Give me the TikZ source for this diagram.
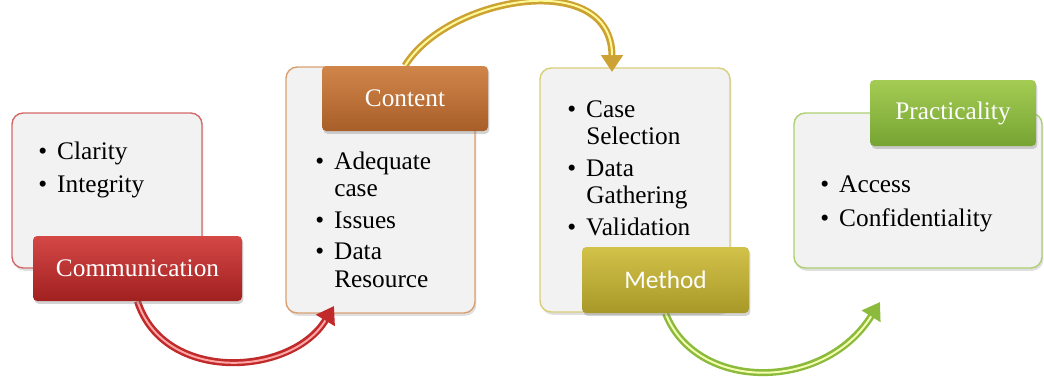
\documentclass[tikz,border=0pt]{standalone}
\usepackage{fontspec}
\setmainfont{Liberation Serif}
\newfontfamily\calibrifont{Carlito}
\usetikzlibrary{arrows.meta,shadows}

\pgfdeclarelayer{back}
\pgfdeclarelayer{mid}
\pgfsetlayers{back,mid,main}

\definecolor{commtop}{RGB}{212,72,70}
\definecolor{commbot}{RGB}{160,32,32}
\definecolor{conttop}{RGB}{208,134,74}
\definecolor{contbot}{RGB}{168,94,40}
\definecolor{methtop}{RGB}{210,194,74}
\definecolor{methbot}{RGB}{168,152,40}
\definecolor{practop}{RGB}{164,204,84}
\definecolor{pracbot}{RGB}{118,164,50}
\definecolor{commline}{RGB}{212,104,104}
\definecolor{contline}{RGB}{216,160,112}
\definecolor{methline}{RGB}{216,206,120}
\definecolor{pracline}{RGB}{172,208,112}
\definecolor{redflow}{RGB}{192,42,42}
\definecolor{goldflow}{RGB}{204,162,52}
\definecolor{greenflow}{RGB}{140,186,60}

\newcommand{\bul}{\makebox[13.5pt][l]{\textbullet}}
\newcommand{\cont}{\hspace*{13.5pt}}

\begin{document}
\begin{tikzpicture}[>={Triangle[length=12pt,width=15pt]}]
    \useasboundingbox (0,0) rectangle (26.1,9.4);

    % Define styles
    \tikzstyle{card}=[rectangle, rounded corners=8pt, fill=gray!10, line width=1pt, drop shadow={opacity=0.25, shadow xshift=1pt, shadow yshift=-2pt}]
    \tikzstyle{tag}=[rectangle, rounded corners=3pt, text=white, font=\rmfamily\fontsize{18}{20}\selectfont, drop shadow={opacity=0.35, shadow xshift=1pt, shadow yshift=-2pt}]
    \tikzstyle{items}=[inner sep=0pt, anchor=north west, align=left, font=\rmfamily\fontsize{18}{19.5}\selectfont]
    \tikzstyle{flow}=[->, line width=5pt]

    % Cards
    \begin{pgfonlayer}{back}
    \node[card, draw=commline, minimum width=4.75cm, minimum height=3.875cm] (commbox) at (2.675,4.6375) {};
    \node[card, draw=contline, minimum width=4.725cm, minimum height=6.15cm] (contbox) at (9.5125,4.65) {};
    \node[card, draw=methline, minimum width=4.75cm, minimum height=6.1cm] (methbox) at (15.875,4.65) {};
    \node[card, draw=pracline, minimum width=6.2cm, minimum height=3.875cm] (pracbox) at (22.95,4.6375) {};
    \end{pgfonlayer}

    % Tags
    \node[tag, top color=commtop, bottom color=commbot, minimum width=5.225cm, minimum height=1.625cm] (comm) at (3.4375,2.6875) {Communication};
    \node[tag, top color=conttop, bottom color=contbot, minimum width=4.15cm, minimum height=1.625cm] (content) at (10.125,6.9375) {Content};
    \node[tag, top color=methtop, bottom color=methbot, minimum width=4.175cm, minimum height=1.65cm, font=\calibrifont\fontsize{18}{20}\selectfont] (method) at (16.6375,2.4) {Method};
    \node[tag, top color=practop, bottom color=pracbot, minimum width=4.15cm, minimum height=1.65cm] (prac) at (23.825,6.575) {Practicality};

    % Bullet lists
    \node[items] (commlist) at (0.95,5.87) {\bul Clarity\\[4pt] \bul Integrity};
    \node[items] (contlist) at (7.875,5.62) {\bul Adequate\\ \cont case\\[3pt] \bul Issues\\[3pt] \bul Data\\ \cont Resource};
    \node[items] (methlist) at (14.175,6.9) {\bul Case\\ \cont Selection\\[3pt] \bul Data\\ \cont Gathering\\[3pt] \bul Validation};
    \node[items] (praclist) at (20.5,5.0) {\bul Access\\[4pt] \bul Confidentiality};

    % Connectors
    \coordinate (redtip) at (8.35,1.75);
    \coordinate (goldtip) at (15.3,7.6);
    \coordinate (greentip) at (22.0,1.85);
    \begin{pgfonlayer}{mid}
    \draw[flow, redflow, postaction={draw=red!35, line width=1.4pt, -, shorten >=12pt}] (comm.south) .. controls (4.1,-0.2) and (7.3,0.0) .. (redtip);
    \draw[flow, goldflow, postaction={draw=yellow!40, line width=1.4pt, -, shorten >=12pt}] (content.north) .. controls (11.2,9.5) and (15.3,10.2) .. (goldtip);
    \draw[flow, greenflow, postaction={draw=green!15!yellow!30, line width=1.4pt, -, shorten >=12pt}] (method.south) .. controls (17.4,-0.4) and (20.6,-0.4) .. (greentip);
    \end{pgfonlayer}
\end{tikzpicture}
\end{document}
